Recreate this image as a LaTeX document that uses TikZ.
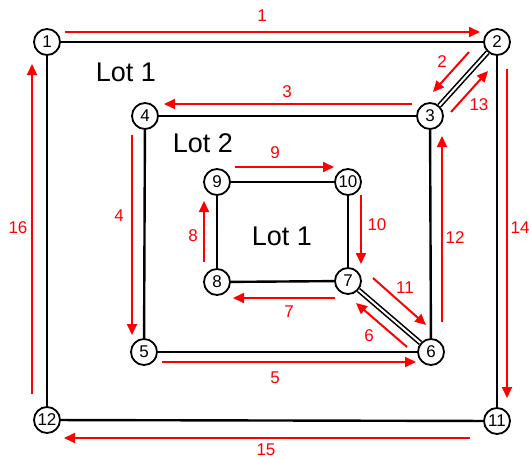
\documentclass[tikz,border=0pt]{standalone}
\usepackage{fontspec}
\setmainfont{Liberation Sans}
\usetikzlibrary{arrows.meta}
\begin{document}
\begin{tikzpicture}[x=1pt,y=-1pt,
  vtx/.style={circle,draw,line width=1.8pt,fill=white,minimum size=26pt,inner sep=0pt,font=\fontsize{17}{17}\selectfont},
  road/.style={line width=2.4pt},
  droad/.style={line width=1.6pt,double=white,double distance=2pt},
  flow/.style={red,line width=2pt,-{Triangle[length=11pt,width=10pt]}},
  lbl/.style={red,font=\fontsize{17}{17}\selectfont,inner sep=0pt},
  lot/.style={font=\fontsize{27}{27}\selectfont,inner sep=0pt}]
\useasboundingbox (0,0) rectangle (531,458);
% vertices
\node[vtx] (n1) at (47,42) {1};
\node[vtx] (n2) at (497,42) {2};
\node[vtx] (n3) at (430,116) {3};
\node[vtx] (n4) at (145,116) {4};
\node[vtx] (n5) at (144,352) {5};
\node[vtx] (n6) at (431,352) {6};
\node[vtx] (n7) at (348,281) {7};
\node[vtx] (n8) at (217,282) {8};
\node[vtx] (n9) at (217,182) {9};
\node[vtx] (n10) at (348,182) {10};
\node[vtx] (n11) at (497,421) {11};
\node[vtx] (n12) at (47,420) {12};
% roads
\draw[road] (n1) -- (n2);
\draw[road] (n2) -- (n11);
\draw[road] (n11) -- (n12);
\draw[road] (n12) -- (n1);
\draw[road] (n3) -- (n4);
\draw[road] (n4) -- (n5);
\draw[road] (n5) -- (n6);
\draw[road] (n6) -- (n3);
\draw[road] (n7) -- (n8);
\draw[road] (n8) -- (n9);
\draw[road] (n9) -- (n10);
\draw[road] (n10) -- (n7);
\draw[droad] (n2) -- (n3);
\draw[droad] (n6) -- (n7);
% flow arrow ends
\coordinate (a1s) at (65,32);   \coordinate (a1e) at (480,32);
\coordinate (a2s) at (469,52);  \coordinate (a2e) at (433,92);
\coordinate (a3s) at (412,104); \coordinate (a3e) at (164,104);
\coordinate (a4s) at (132,135); \coordinate (a4e) at (132,335);
\coordinate (a5s) at (162,362); \coordinate (a5e) at (416,362);
\coordinate (a6s) at (407,347); \coordinate (a6e) at (356,303);
\coordinate (a7s) at (335,298); \coordinate (a7e) at (233,298);
\coordinate (a8s) at (204,262); \coordinate (a8e) at (204,201);
\coordinate (a9s) at (235,167); \coordinate (a9e) at (334,167);
\coordinate (a10s) at (361,195); \coordinate (a10e) at (361,264);
\coordinate (a11s) at (373,278); \coordinate (a11e) at (426,325);
\coordinate (a12s) at (442,322); \coordinate (a12e) at (442,136);
\coordinate (a13s) at (451,112); \coordinate (a13e) at (488,71);
\coordinate (a14s) at (507,69); \coordinate (a14e) at (507,398);
\coordinate (a15s) at (470,438); \coordinate (a15e) at (64,438);
\coordinate (a16s) at (32,394); \coordinate (a16e) at (32,64);
\foreach \k in {1,...,16} {\draw[flow] (a\k s) -- (a\k e);}
% flow labels
\node[lbl] (l1) at (262,16) {1};
\node[lbl] (l2) at (442,62) {2};
\node[lbl] (l3) at (287,92) {3};
\node[lbl] (l4) at (119,216) {4};
\node[lbl] (l5) at (275,378) {5};
\node[lbl] (l6) at (369,336) {6};
\node[lbl] (l7) at (289,312) {7};
\node[lbl] (l8) at (193,236) {8};
\node[lbl] (l9) at (275,153) {9};
\node[lbl] (l10) at (377,225) {10};
\node[lbl] (l11) at (405,288) {11};
\node[lbl] (l12) at (455,238) {12};
\node[lbl] (l13) at (479,105) {13};
\node[lbl] (l14) at (520,228) {14};
\node[lbl] (l15) at (266,450) {15};
\node[lbl] (l16) at (18,228) {16};
% lot labels
\node[lot] (lotA) at (126,72) {Lot 1};
\node[lot] (lotB) at (203,143) {Lot 2};
\node[lot] (lotC) at (282,236) {Lot 1};
\end{tikzpicture}
\end{document}
